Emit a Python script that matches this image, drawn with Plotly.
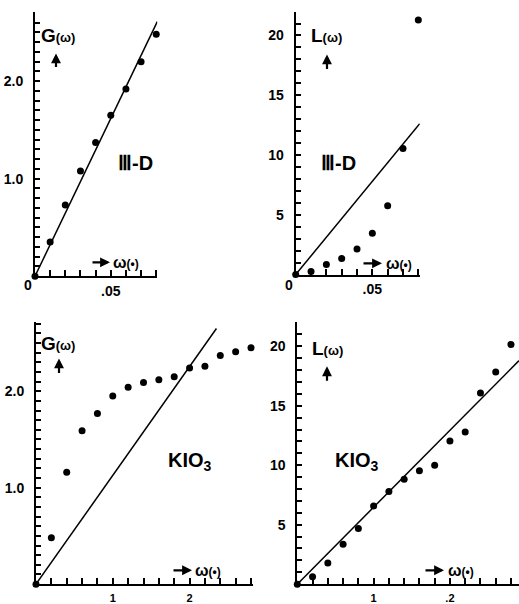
import plotly.graph_objects as go

# ---------------- data ----------------
w_3d = [0, 0.01, 0.02, 0.03, 0.04, 0.05, 0.06, 0.07, 0.08]
G_3d = [0, 0.35, 0.73, 1.08, 1.37, 1.65, 1.92, 2.20, 2.48]
L_3d = [0, 0.25, 0.83, 1.35, 2.13, 3.45, 5.75, 10.55, 21.3]
fit_w_G3d = [0, 0.0807]
fit_G3d = [0, 2.61]
fit_w_L3d = [0, 0.0809]
fit_L3d = [0, 12.62]

w_kio = [0, 0.2, 0.4, 0.6, 0.8, 1.0, 1.2, 1.4, 1.6, 1.8, 2.0, 2.2, 2.4, 2.6, 2.8]
G_kio = [0, 0.48, 1.16, 1.59, 1.77, 1.95, 2.04, 2.09, 2.12, 2.15, 2.24, 2.26, 2.37, 2.41, 2.45]
L_kio = [0, 0.63, 1.78, 3.36, 4.67, 6.58, 7.8, 8.83, 9.54, 10.0, 12.05, 12.79, 16.07, 17.84, 20.16]
fit_w_Gkio = [0, 2.35]
fit_Gkio = [0, 2.65]
fit_w_Lkio = [0, 2.905]
fit_Lkio = [0, 18.8]

xtick_3d_vals = [0.05]
xtick_3d_text = [".05"]
xtick_kG_vals = [1, 2]
xtick_kG_text = ["1", "2"]
xtick_kL_vals = [1, 2]
xtick_kL_text = ["1", ".2"]
ytick_G_vals = [1, 2]
ytick_G_text = ["1.0", "2.0"]
ytick_L_vals = [5, 10, 15, 20]
ytick_L_text = ["5", "10", "15", "20"]

# tick steps and label formats (axis decoration)
step_x3d, fmt_x3d = 0.01, ".2f"
step_xk, fmt_xk = 0.2, ".1f"
step_yG, fmt_yG = 0.1, ".1f"
step_yL, fmt_yL = 1, "d"

W, H = 519, 604
FONT = "Liberation Sans, Arial, sans-serif"


def px(x):
    return x / W


def py(y):
    return 1 - y / H


def positions(step, top):
    out, k = [], 0
    while k * step <= top + 1e-9:
        out.append(round(k * step, 6))
        k += 1
    return out


def fmt(v, f):
    return format(int(round(v)), "d") if f == "d" else format(v, f)


def aliases(step, top, f, vals, texts):
    lab = {fmt(v, f): t for v, t in zip(vals, texts)}
    return {fmt(v, f): lab.get(fmt(v, f), "") for v in positions(step, top)}


fig = go.Figure()

geo_px = [
    ((35, 157.3), [0, 0.0807], (279, 12), [0, 2.71]),
    ((295.7, 419.7), [0, 0.0809], (277.3, 11.7), [0, 22.0]),
    ((36, 253.3), [0, 2.83], (590, 325), [0, 2.72]),
    ((297.3, 519), [0, 2.905], (590, 325), [0, 22.07]),
]

panels = [
    (w_3d, G_3d, fit_w_G3d, fit_G3d),
    (w_3d, L_3d, fit_w_L3d, fit_L3d),
    (w_kio, G_kio, fit_w_Gkio, fit_Gkio),
    (w_kio, L_kio, fit_w_Lkio, fit_Lkio),
]
xt = [(xtick_3d_vals, xtick_3d_text), (xtick_3d_vals, xtick_3d_text),
      (xtick_kG_vals, xtick_kG_text), (xtick_kL_vals, xtick_kL_text)]
yt = [(ytick_G_vals, ytick_G_text), (ytick_L_vals, ytick_L_text),
      (ytick_G_vals, ytick_G_text), (ytick_L_vals, ytick_L_text)]
xs_fmt = [(step_x3d, fmt_x3d), (step_x3d, fmt_x3d), (step_xk, fmt_xk), (step_xk, fmt_xk)]
ys_fmt = [(step_yG, fmt_yG), (step_yL, fmt_yL), (step_yG, fmt_yG), (step_yL, fmt_yL)]

layout = dict(width=W, height=H, margin=dict(l=0, r=0, t=0, b=0),
              paper_bgcolor="white", plot_bgcolor="white", showlegend=False)

for i, (xs, ys, fx, fy) in enumerate(panels):
    n = i + 1
    xa = "x" if n == 1 else f"x{n}"
    ya = "y" if n == 1 else f"y{n}"
    (xp0, xp1), xr, (yp0, yp1), yr = geo_px[i]
    xd = [px(xp0), px(xp1)]
    yd = [py(yp0), py(yp1)]
    fs_x = 14 if i < 2 else 11
    sx, fxm = xs_fmt[i]
    sy, fym = ys_fmt[i]
    layout["xaxis" if n == 1 else f"xaxis{n}"] = dict(
        domain=xd, range=xr, anchor=ya, showgrid=False, zeroline=False,
        showline=True, linecolor="black", linewidth=2,
        tickmode="linear", tick0=0, dtick=sx, tickformat=fxm,
        labelalias=aliases(sx, xr[1], fxm, xt[i][0], xt[i][1]),
        ticks="inside", ticklen=6, tickwidth=2, tickcolor="black",
        ticklabelstandoff=1 if i < 2 else 3,
        tickfont=dict(family=FONT, size=fs_x, color="black", weight="bold"))
    layout["yaxis" if n == 1 else f"yaxis{n}"] = dict(
        domain=yd, range=yr, anchor=xa, showgrid=False, zeroline=False,
        showline=True, linecolor="black", linewidth=2,
        tickmode="linear", tick0=0, dtick=sy, tickformat=fym,
        labelalias=aliases(sy, yr[1], fym, yt[i][0], yt[i][1]),
        ticks="inside", ticklen=5, tickwidth=2, tickcolor="black",
        ticklabelstandoff=7,
        tickfont=dict(family=FONT, size=14, color="black", weight="bold"))

    # outer dashes at labelled y ticks, as short segments (pixel lengths -> data units)
    ux = (xr[1] - xr[0]) / (xp1 - xp0)
    tx, ty = [], []
    for v in yt[i][0]:
        tx += [-7 * ux, 0, None]
        ty += [v, v, None]
    fig.add_trace(go.Scatter(x=tx, y=ty, mode="lines", xaxis=xa, yaxis=ya,
                             line=dict(color="black", width=2),
                             showlegend=False, cliponaxis=False, hoverinfo="skip"))

    fig.add_trace(go.Scatter(x=fx, y=fy, mode="lines", xaxis=xa, yaxis=ya,
                             line=dict(color="black", width=1.5),
                             showlegend=False, cliponaxis=False, hoverinfo="skip"))
    fig.add_trace(go.Scatter(x=xs, y=ys, mode="markers", xaxis=xa, yaxis=ya,
                             marker=dict(color="black", size=7),
                             showlegend=False, cliponaxis=False))

fig.update_layout(**layout)


def ann(text, x, y, size, xanchor="left", yanchor="middle"):
    fig.add_annotation(text=text, x=px(x), y=py(y), xref="paper", yref="paper",
                       showarrow=False, xanchor=xanchor, yanchor=yanchor,
                       font=dict(family=FONT, size=size, color="black", weight="bold"))


def arrow(x0, y0, x1, y1):
    fig.add_annotation(x=px(x1), y=py(y1), xref="paper", yref="paper",
                       ax=x0 - x1, ay=y0 - y1, axref="pixel", ayref="pixel",
                       text="", showarrow=True, arrowhead=2, arrowsize=0.9,
                       arrowwidth=2.2, arrowcolor="black")


small = "<span style='font-size:13px'>(ω)</span>"
wtxt = "ω<span style='font-size:12px'>(•)</span>"

# Panel 1
ann("0", 28, 288, 14, "center")
ann("G" + small, 39, 36, 19)
arrow(56, 69, 56, 54)
ann("Ⅲ-D", 135, 165, 20, "center")
arrow(91, 265, 110, 265)
ann(wtxt, 111, 265, 16)
# Panel 2
ann("0", 289, 288, 14, "center")
ann("L" + small, 309, 36, 19)
arrow(327, 71, 327, 55)
ann("Ⅲ-D", 338, 165, 20, "center")
arrow(362, 266, 382, 266)
ann(wtxt, 384, 266, 16)
# Panel 3
ann("G" + small, 39, 347, 19)
arrow(59, 378, 59, 362)
ann("KIO<sub>3</sub>", 190, 466, 20, "center")
arrow(172, 576, 192, 576)
ann(wtxt, 193, 576, 16)
# Panel 4
ann("L" + small, 310, 352, 19)
arrow(327, 386, 327, 370)
ann("KIO<sub>3</sub>", 357, 466, 20, "center")
arrow(424, 576, 444, 576)
ann(wtxt, 446, 576, 16)

fig.write_html("out.html", config={"displayModeBar": False},
               post_script="document.body.style.margin='0px';")
